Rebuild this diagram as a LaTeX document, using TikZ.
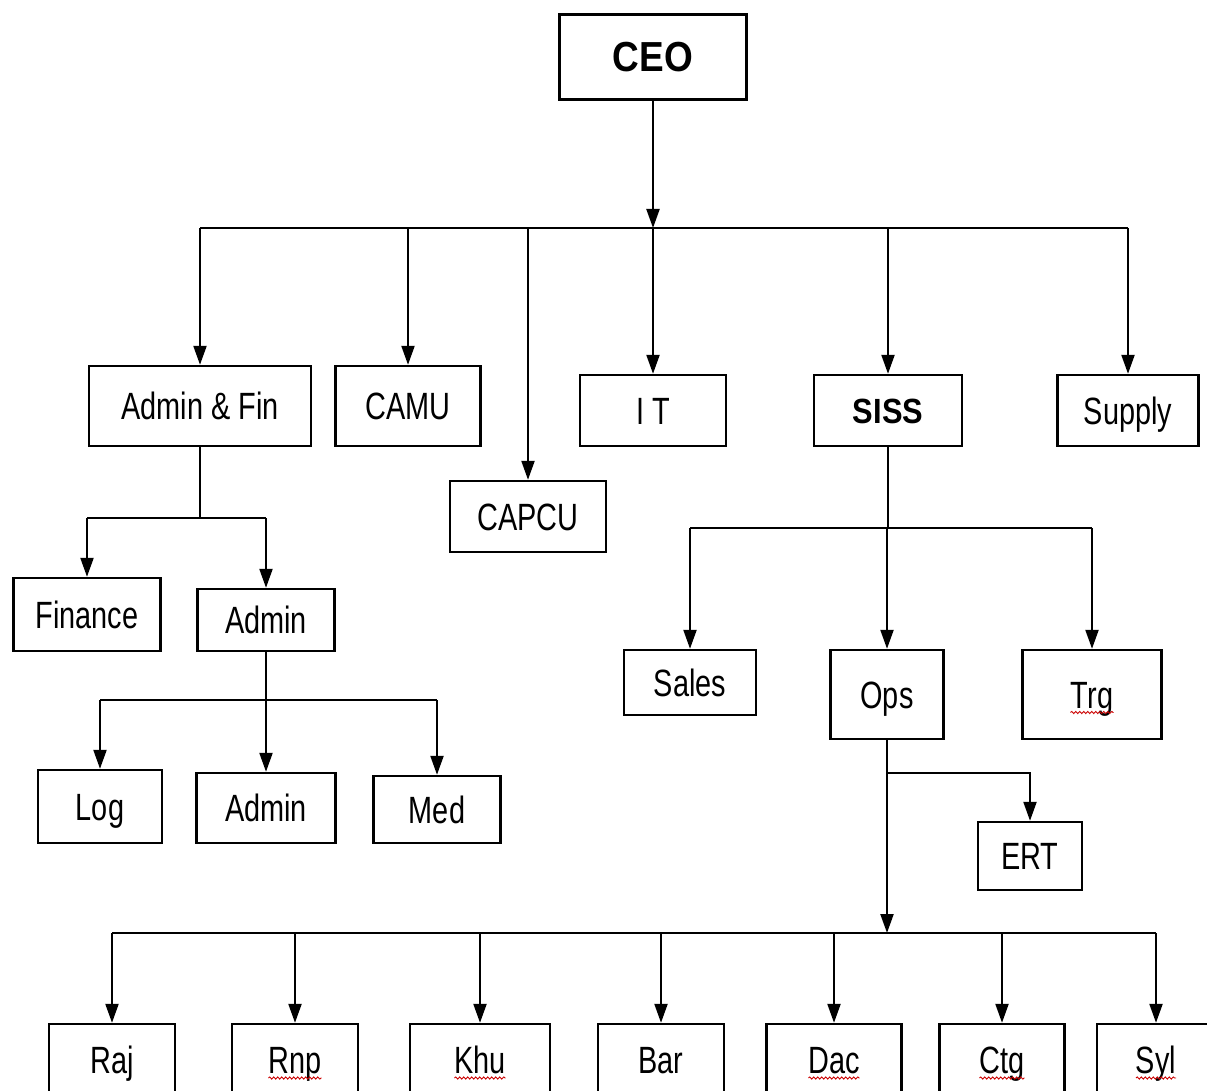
\documentclass[tikz,border=0pt]{standalone}
\usepackage{fontspec}
\setmainfont{Liberation Sans}[FakeStretch=0.76,BoldFeatures={FakeStretch=0.88}]
\usetikzlibrary{arrows.meta,decorations.pathmorphing,calc}

\begin{document}
\begin{tikzpicture}[x=1pt, y=-1pt,
    box/.style={draw, line width=2.4pt, inner sep=0pt, text height=27pt, text depth=0pt,
                font=\fontsize{38}{40}\selectfont},
    boss/.style={box, text height=30pt, font=\bfseries\fontsize{42}{44}\selectfont},
    wire/.style={line width=2.2pt},
    link/.style={wire, -{Triangle[width=13pt,length=19pt]}},
    spellmark/.style={red!80!black, line width=0.9pt, decorate,
                      decoration={snake, amplitude=1.1pt, segment length=4pt}}]
  \useasboundingbox (0,0) rectangle (1207,1091);
  \fill[white] (0,0) rectangle (1207,1091);
  \clip (0,0) rectangle (1207,1091);

  % top levels
  \node[boss, minimum width=187pt, minimum height=85pt] (ceo)      at (653,57)    {CEO};
  \node[box,  minimum width=222pt, minimum height=80pt] (adminfin) at (200,406)   {Admin \& Fin};
  \node[box,  minimum width=145pt, minimum height=80pt] (camu)     at (408,406)   {CAMU};
  \node[box,  minimum width=156pt, minimum height=71pt] (capcu)    at (528,516.5) {CAPCU};
  \node[box,  minimum width=146pt, minimum height=71pt] (it)       at (653,410.5) {I T};
  \node[boss, minimum width=148pt, minimum height=71pt, text height=25pt,
        font=\bfseries\fontsize{35}{37}\selectfont]      (siss)     at (888,410.5) {SISS};
  \node[box,  minimum width=141pt, minimum height=71pt] (supply)   at (1128,410.5) {Supply};

  % admin side
  \node[box, minimum width=147pt, minimum height=73pt] (finance) at (87,614.5)  {Finance};
  \node[box, minimum width=137pt, minimum height=62pt] (admin)   at (266,620)   {Admin};
  \node[box, minimum width=124pt, minimum height=73pt] (log)     at (100,806.5) {Log};
  \node[box, minimum width=139pt, minimum height=70pt] (admintwo) at (266,808)  {Admin};
  \node[box, minimum width=127pt, minimum height=67pt] (med)     at (437,809.5) {Med};

  % siss side
  \node[box, minimum width=132pt, minimum height=65pt] (sales) at (690,682.5)  {Sales};
  \node[box, minimum width=113pt, minimum height=89pt] (ops)   at (887,694.5)  {Ops};
  \node[box, minimum width=139pt, minimum height=89pt] (trg)   at (1092,694.5) {Trg};
  \node[box, minimum width=104pt, minimum height=68pt] (ert)   at (1030,856)   {ERT};

  % regions
  \node[box, minimum width=126pt, minimum height=72pt] (raj) at (112,1060)  {Raj};
  \node[box, minimum width=126pt, minimum height=72pt] (rnp) at (295,1060)  {Rnp};
  \node[box, minimum width=140pt, minimum height=72pt] (khu) at (480,1060)  {Khu};
  \node[box, minimum width=126pt, minimum height=72pt] (bar) at (661,1060)  {Bar};
  \node[box, minimum width=135pt, minimum height=72pt] (dac) at (834,1060)  {Dac};
  \node[box, minimum width=125pt, minimum height=72pt] (ctg) at (1002,1060) {Ctg};
  \node[box, minimum width=118pt, minimum height=72pt] (syl) at (1156,1060) {Syl};

  \coordinate (topbus)    at (653,228);
  \coordinate (afbus)     at (200,518);
  \coordinate (adminbus)  at (266,700);
  \coordinate (sissbus)   at (888,528);
  \coordinate (ertjoin)   at (887,773);
  \coordinate (regionbus) at (887,933);

  \draw[link] (ceo) -- (topbus);
  \draw[wire] (adminfin.north |- topbus) -- (supply.north |- topbus);
  \foreach \n in {adminfin,camu,capcu,it,siss,supply}
    \draw[link] (\n.north |- topbus) -- (\n);

  \draw[wire] (adminfin) -- (afbus);
  \draw[wire] (finance.north |- afbus) -- (admin.north |- afbus);
  \foreach \n in {finance,admin}
    \draw[link] (\n.north |- afbus) -- (\n);

  \draw[wire] (admin) -- (adminbus);
  \draw[wire] (log.north |- adminbus) -- (med.north |- adminbus);
  \foreach \n in {log,admintwo,med}
    \draw[link] (\n.north |- adminbus) -- (\n);

  \draw[wire] (siss) -- (sissbus);
  \draw[wire] (sales.north |- sissbus) -- (trg.north |- sissbus);
  \foreach \n in {sales,ops,trg}
    \draw[link] (\n.north |- sissbus) -- (\n);

  \draw[link] (ops) -- (regionbus);
  \draw[link] (ertjoin) -| (ert);
  \draw[wire] (raj.north |- regionbus) -- (syl.north |- regionbus);
  \foreach \n in {raj,rnp,khu,bar,dac,ctg,syl}
    \draw[link] (\n.north |- regionbus) -- (\n);

  % spell-check squiggles
  \foreach \n/\w in {trg/43,rnp/53,khu/51,dac/51,ctg/45,syl/40}
    \draw[spellmark] ($(\n.center)+(-\w/2,18)$) -- ++(\w,0);
\end{tikzpicture}
\end{document}
